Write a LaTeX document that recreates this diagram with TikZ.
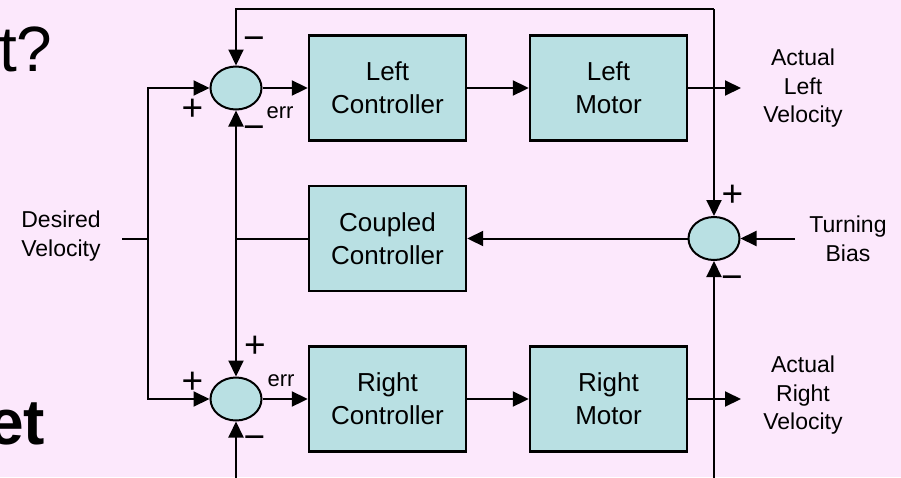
\documentclass[tikz,border=0pt]{standalone}
\usepackage{fontspec}
\setmainfont{Liberation Sans}
\usetikzlibrary{arrows.meta,shapes.geometric}
\definecolor{bgpink}{RGB}{252,232,252}
\definecolor{boxteal}{RGB}{185,224,227}
\tikzset{
  blockbox/.style={draw=black, line width=2.4pt, fill=boxteal, minimum width=157pt, minimum height=105pt, inner sep=0pt, align=center, font=\fontsize{26}{33}\selectfont},
  sumjunc/.style={ellipse, draw=black, line width=2pt, fill=boxteal, minimum width=51pt, minimum height=43pt, inner sep=0pt},
  conn/.style={line width=2pt},
  arr/.style={line width=2pt, -{Triangle[length=16pt,width=15pt]}},
  sigtext/.style={align=center, inner sep=0pt, font=\fontsize{23}{28.5}\selectfont},
  signmark/.style={inner sep=0pt, font=\fontsize{37}{37}\selectfont},
  errtext/.style={inner sep=0pt, font=\fontsize{22}{22}\selectfont}
}
\begin{document}
\begin{tikzpicture}[x=1pt,y=-1pt]
\fill[bgpink] (0,0) rectangle (901,477);
\useasboundingbox (0,0) rectangle (901,477);

% slide text fragments
\node[anchor=base west, inner sep=0pt] (titleA) at (-1,71) {\fontsize{64}{64}\selectfont t?};
\node[anchor=base west, inner sep=0pt] (titleB) at (-12,444) {\fontsize{64}{64}\selectfont\bfseries et};

% blocks
\node[blockbox] (lc) at (387.5,88) {Left\\Controller};
\node[blockbox] (lm) at (608.5,88) {Left\\Motor};
\node[blockbox] (cc) at (387.5,238.5) {Coupled\\Controller};
\node[blockbox] (rc) at (387.5,399) {Right\\Controller};
\node[blockbox] (rm) at (608.5,399) {Right\\Motor};

% summing junctions
\node[sumjunc] (s1) at (236,88) {};
\node[sumjunc] (s2) at (236,399) {};
\node[sumjunc] (s3) at (714,238.5) {};

% signal labels
\node[sigtext] (dv) at (61,236) {Desired\\Velocity};
\node[sigtext] (alv) at (803,88.5) {Actual\\Left\\Velocity};
\node[sigtext] (arv) at (803,395.5) {Actual\\Right\\Velocity};
\node[sigtext] (tbias) at (848,239) {Turning\\Bias};

% coordinates
\coordinate (dvL) at (122,239);
\coordinate (dvJ) at (148,239);
\coordinate (topY) at (476,9);
\coordinate (botY) at (476,482);
\coordinate (out1) at (741,88);
\coordinate (out2) at (741,399);
\coordinate (tbL) at (795,238.5);

% desired velocity distribution
\draw[conn] (dvL) -- (dvJ);
\draw[arr] (dvJ) |- (s1.west);
\draw[arr] (dvJ) |- (s2.west);

% forward paths
\draw[arr] (s1.east) -- (lc.west);
\draw[arr] (lc.east) -- (lm.west);
\draw[arr] (lm.east) -- (out1);
\draw[arr] (s2.east) -- (rc.west);
\draw[arr] (rc.east) -- (rm.west);
\draw[arr] (rm.east) -- (out2);

% top feedback loop
\draw[arr] (s3.north |- topY) -| (s1.north);
\draw[arr] (s3.north |- topY) -- (s3.north);

% bottom feedback (continues below)
\draw[arr] (s2.south |- botY) -- (s2.south);
\draw[arr] (s3.south |- botY) -- (s3.south);

% coupled controller path
\draw[arr] (tbL) -- (s3.east);
\draw[arr] (s3.west) -- (cc.east);
\draw[conn] (cc.west) -- (cc.west -| s1.south);
\draw[arr] (cc.west -| s1.south) -- (s1.south);
\draw[arr] (cc.west -| s1.south) -- (s2.north);

% signs
\node[signmark] (m1) at (254,44) {−};
\node[signmark] (p1) at (192.5,109.5) {+};
\node[errtext] (e1) at (280,113) {err};
\node[signmark] (m2) at (254,133) {−};

\node[signmark] (p3) at (255,347) {+};
\node[signmark] (p4) at (192.5,383) {+};
\node[errtext] (e2) at (281,381) {err};
\node[signmark] (m4) at (254.5,443) {−};

\node[signmark] (p5) at (732.5,196) {+};
\node[signmark] (m5) at (732,283) {−};
\end{tikzpicture}
\end{document}
